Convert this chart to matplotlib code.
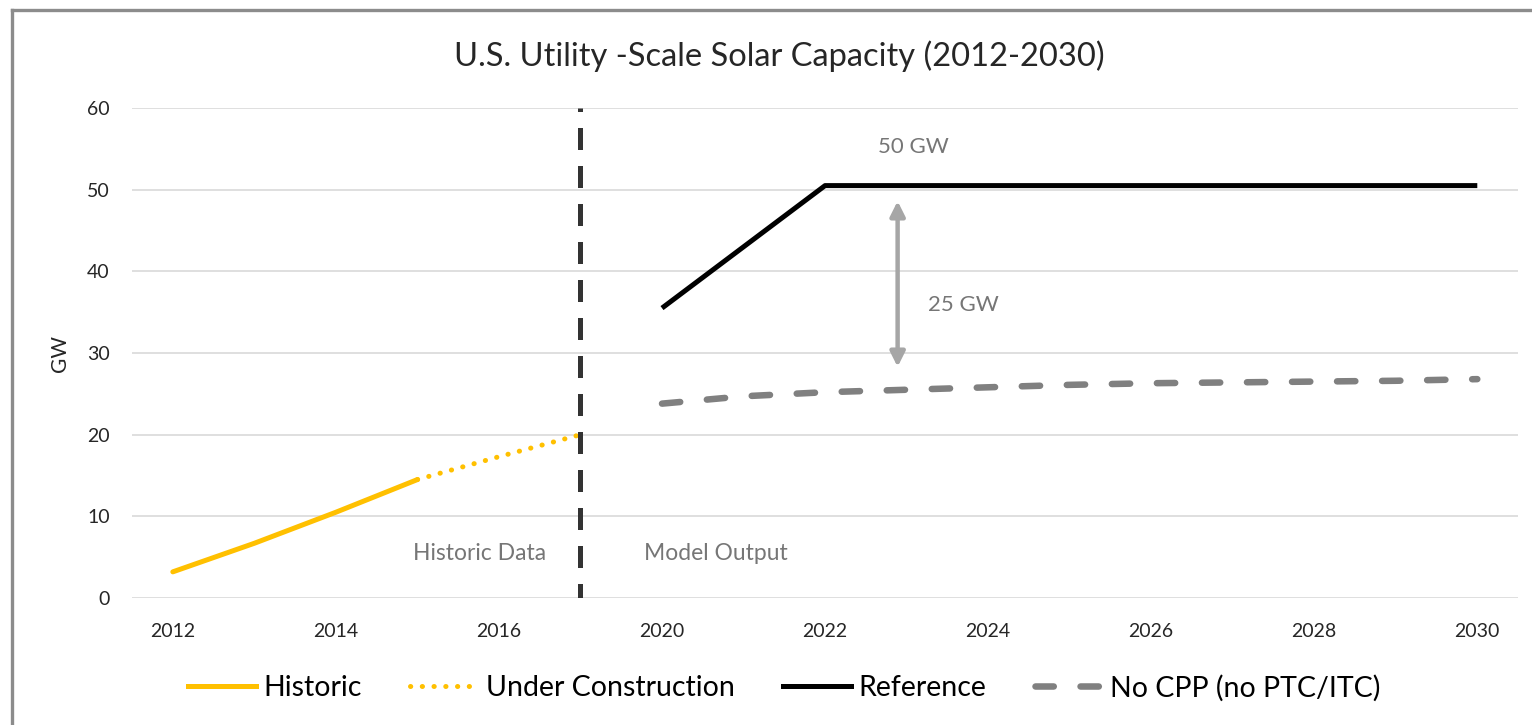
import numpy as np
import matplotlib
matplotlib.use("Agg")
import matplotlib.pyplot as plt
from matplotlib.lines import Line2D

plt.rcParams['font.family'] = ['Lato', 'DejaVu Sans']

# data (GW); categories skip 2018-2019 as in the source chart
years = ['2012', '2013', '2014', '2015', '2016', '2017',
         '2020', '2021', '2022', '2023', '2024', '2025',
         '2026', '2027', '2028', '2029', '2030']
nan = np.nan
historic = [3.2, 6.7, 10.5, 14.5] + [nan] * 13
under_construction = [nan, nan, nan, 14.5, 17.3, 20.0] + [nan] * 11
reference = [nan] * 6 + [35.5, 43.0, 50.5, 50.5, 50.5, 50.5, 50.5, 50.5, 50.5, 50.5, 50.5]
no_cpp = [nan] * 6 + [23.8, 24.7, 25.2, 25.5, 25.8, 26.1, 26.3, 26.4, 26.5, 26.6, 26.8]

x = np.arange(len(years))

fig = plt.figure(figsize=(15.32, 7.25), dpi=100)
ax = fig.add_axes([0.0862, 0.1752, 0.9047, 0.6758])

yellow = '#FFC000'
grey = '#808080'

ax.plot(x, historic, color=yellow, lw=3.6, solid_capstyle='round')
ax.plot(x, under_construction, color=yellow, lw=3.6,
        linestyle=(0, (0.05, 2.3)), dash_capstyle='round')
ax.plot(x, reference, color='black', lw=3.6, solid_capstyle='butt')
ax.plot(x, no_cpp, color=grey, lw=4.7, linestyle=(0, (2.8, 4.1)),
        dash_capstyle='round')

# divider between historic data and model output
ax.axvline(5, ymin=0.0, ymax=1.0, color='#333333', lw=3.6,
           linestyle=(1.5, (4.4, 3.2)), dash_capstyle='butt', zorder=4)

# gap arrow
ax.annotate('', xy=(8.89, 48.6), xytext=(8.89, 28.3),
            arrowprops=dict(arrowstyle='<|-|>', color='#A6A6A6', lw=3.2,
                            mutation_scale=22, shrinkA=0, shrinkB=0))

txt = '#767676'
ax.text(9.08, 55.2, '50 GW', color=txt, fontsize=16, ha='center', va='center')
ax.text(9.7, 35.9, '25 GW', color=txt, fontsize=16, ha='center', va='center')
ax.text(3.76, 5.4, 'Historic Data', color=txt, fontsize=16.5, ha='center', va='center')
ax.text(6.66, 5.4, 'Model Output', color=txt, fontsize=16.5, ha='center', va='center')

ax.set_xlim(-0.5, len(years) - 0.5)
ax.set_ylim(0, 60)
ax.set_yticks(np.arange(0, 61, 10))
ax.set_xticks(x[::2])
ax.set_xticklabels(years[::2])
ax.tick_params(axis='both', length=0, labelsize=14, colors='#262626')
ax.tick_params(axis='x', pad=18)
ax.tick_params(axis='y', pad=16)
ax.grid(axis='y', color='#D9D9D9', lw=1.2)
ax.set_axisbelow(True)
for s in ax.spines.values():
    s.set_visible(False)

ax.set_ylabel('GW', fontsize=15, color='#262626')
ax.yaxis.set_label_coords(-0.045, 0.5)

fig.text(0.509, 0.922, 'U.S. Utility -Scale Solar Capacity (2012-2030)',
         fontsize=23.5, color='#262626', ha='center', va='center')

handles = [
    Line2D([], [], color=yellow, lw=3.6),
    Line2D([], [], color=yellow, lw=3.6, linestyle=(0, (0.05, 2.3)), dash_capstyle='round'),
    Line2D([], [], color='black', lw=3.6),
    Line2D([], [], color=grey, lw=4.7, linestyle=(0, (2.8, 4.1)), dash_capstyle='round'),
]
labels = ['Historic', 'Under Construction', 'Reference', 'No CPP (no PTC/ITC)']
fig.legend(handles, labels, loc='center', bbox_to_anchor=(0.512, 0.051), ncol=4,
           frameon=False, fontsize=20.5, handlelength=2.4, handletextpad=0.25,
           columnspacing=1.7)

# chart border (cropped on right and bottom)
fig.add_artist(Line2D([12 / 1532, 12 / 1532], [0, 1 - 10 / 725],
                      transform=fig.transFigure, color='#8C8C8C', lw=2.4))
fig.add_artist(Line2D([12 / 1532, 1], [1 - 10 / 725, 1 - 10 / 725],
                      transform=fig.transFigure, color='#8C8C8C', lw=2.4))

fig.savefig('out.png', dpi=100)
